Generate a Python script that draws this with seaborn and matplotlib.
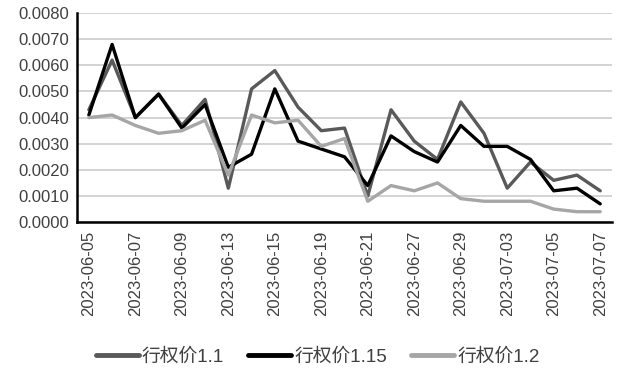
import pandas as pd
import matplotlib
matplotlib.use("Agg")
import matplotlib.pyplot as plt
import seaborn as sns

# Trading days (every other one labelled)
dates = ["2023-06-05", "2023-06-06", "2023-06-07", "2023-06-08", "2023-06-09",
         "2023-06-12", "2023-06-13", "2023-06-14", "2023-06-15", "2023-06-16",
         "2023-06-19", "2023-06-20", "2023-06-21", "2023-06-26", "2023-06-27",
         "2023-06-28", "2023-06-29", "2023-06-30", "2023-07-03", "2023-07-04",
         "2023-07-05", "2023-07-06", "2023-07-07"]

strike_110 = [0.0043, 0.0062, 0.0040, 0.0049, 0.0037, 0.0047, 0.0013, 0.0051,
              0.0058, 0.0044, 0.0035, 0.0036, 0.0010, 0.0043, 0.0031, 0.0024,
              0.0046, 0.0034, 0.0013, 0.0023, 0.0016, 0.0018, 0.0012]
strike_115 = [0.0041, 0.0068, 0.0040, 0.0049, 0.0036, 0.0045, 0.0021, 0.0026,
              0.0051, 0.0031, 0.0028, 0.0025, 0.0014, 0.0033, 0.0027, 0.0023,
              0.0037, 0.0029, 0.0029, 0.0024, 0.0012, 0.0013, 0.0007]
strike_120 = [0.0040, 0.0041, 0.0037, 0.0034, 0.0035, 0.0039, 0.0018, 0.0041,
              0.0038, 0.0039, 0.0029, 0.0032, 0.0008, 0.0014, 0.0012, 0.0015,
              0.0009, 0.0008, 0.0008, 0.0008, 0.0005, 0.0004, 0.0004]

series_names = ["行权价1.1", "行权价1.15", "行权价1.2"]
colors = ["#595959", "#000000", "#a6a6a6"]

df = pd.DataFrame({"date": dates, series_names[0]: strike_110,
                   series_names[1]: strike_115, series_names[2]: strike_120})
long_df = df.melt(id_vars="date", var_name="series", value_name="value")
long_df["idx"] = long_df["date"].map({d: i for i, d in enumerate(dates)})

sns.set_style("white")
plt.rcParams["font.family"] = ["Liberation Sans", "Noto Sans CJK SC"]

fig = plt.figure(figsize=(6.18, 3.74), dpi=100)
ax = fig.add_axes([0.125, 0.406, 0.865, 0.559])

sns.lineplot(data=long_df, x="idx", y="value", hue="series",
             hue_order=series_names, palette=colors, linewidth=2.4, ax=ax)

ax.set_xlim(-0.5, len(dates) - 0.5)
ax.set_ylim(0, 0.008)
ax.set_yticks([i * 0.001 for i in range(9)])
ax.set_yticklabels([f"{i * 0.001:.4f}" for i in range(9)], fontsize=12, color="#404040")
ax.set_xticks(range(0, len(dates), 2))
ax.set_xticklabels(dates[::2], rotation=90, fontsize=12, color="#404040")
ax.tick_params(length=0, pad=6)
ax.set_xlabel("")
ax.set_ylabel("")

ax.grid(axis="y", color="#cccccc", linewidth=1.2)
ax.set_axisbelow(True)
for side in ["top", "right"]:
    ax.spines[side].set_visible(False)
for side in ["left", "bottom"]:
    ax.spines[side].set_color("black")
    ax.spines[side].set_linewidth(1.8)

handles, labels = ax.get_legend_handles_labels()
for h in handles:
    h.set_linewidth(3.5)
    h.set_solid_capstyle("round")
ax.legend(handles, labels, loc="center", bbox_to_anchor=(0.514, 1 - 357 / 374),
          ncol=3, frameon=False, fontsize=13.5, handlelength=2.3,
          columnspacing=1.3, handletextpad=0.15,
          bbox_transform=fig.transFigure)
for t in ax.get_legend().get_texts():
    t.set_color("#404040")

fig.savefig("out.png", dpi=100)
